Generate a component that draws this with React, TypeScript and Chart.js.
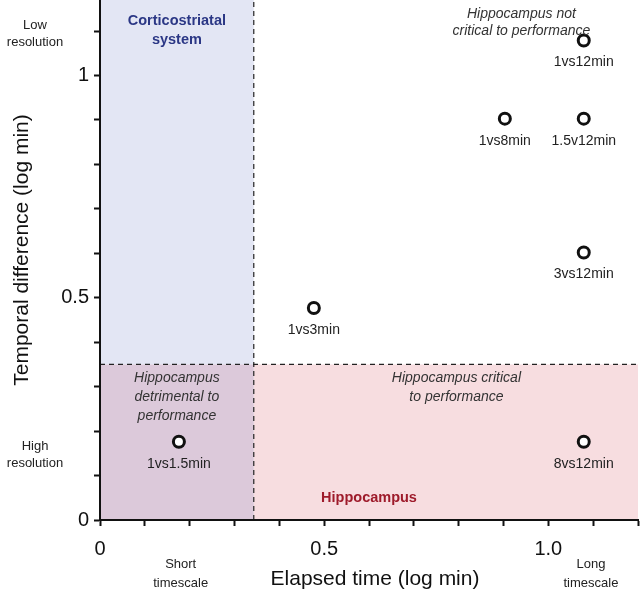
import React, { useEffect, useRef } from 'react';
import { Chart, registerables } from 'chart.js';

Chart.register(...registerables);

// ---- data ----
const pointNames = ['1vs1.5min', '1vs3min', '1vs8min', '1vs12min', '1.5v12min', '3vs12min', '8vs12min'];
const elapsedLog = [0.176, 0.477, 0.903, 1.079, 1.079, 1.079, 1.079];
const diffLog = [0.176, 0.477, 0.903, 1.079, 0.903, 0.602, 0.176];

const xTickText: Record<number, string> = { 0: '0', 5: '0.5', 10: '1.0' };
const yTickText: Record<number, string> = { 0: '0', 5: '0.5', 10: '1' };

const xMax = 1.2;
const yMax = 1.17;
const elapsedSplit = 0.343;
const diffSplit = 0.35;

const FONT = '"Liberation Sans", Arial, Helvetica, sans-serif';

function drawLines(ctx: CanvasRenderingContext2D, lines: string[], x: number, y: number, lh: number) {
  lines.forEach((t, i) => ctx.fillText(t, x, y + i * lh));
}

const regionsPlugin = {
  id: 'regions',
  beforeDraw(chart: any) {
    const { ctx, chartArea: a, scales } = chart;
    const x = scales.x, y = scales.y;
    const xs = x.getPixelForValue(elapsedSplit);
    const ys = y.getPixelForValue(diffSplit);
    ctx.save();
    ctx.fillStyle = '#e3e6f4';
    ctx.fillRect(a.left, a.top, xs - a.left, ys - a.top);
    ctx.fillStyle = '#f7dde0';
    ctx.fillRect(xs, ys, a.right - xs, a.bottom - ys);
    ctx.fillStyle = '#dcc9da';
    ctx.fillRect(a.left, ys, xs - a.left, a.bottom - ys);

    ctx.strokeStyle = '#222';
    ctx.lineWidth = 1.2;
    ctx.setLineDash([5, 4]);
    ctx.beginPath();
    ctx.moveTo(a.left, ys);
    ctx.lineTo(a.right, ys);
    ctx.moveTo(xs, a.bottom);
    ctx.lineTo(xs, a.top);
    ctx.stroke();
    ctx.restore();
  },
  afterDraw(chart: any) {
    const { ctx, chartArea: a, scales } = chart;
    const x = scales.x, y = scales.y;
    const xs = x.getPixelForValue(elapsedSplit);
    const ys = y.getPixelForValue(diffSplit);
    ctx.save();
    ctx.textAlign = 'center';
    ctx.textBaseline = 'middle';

    // region titles
    ctx.font = `bold 14.5px ${FONT}`;
    ctx.fillStyle = '#2b3785';
    drawLines(ctx, ['Corticostriatal', 'system'], (a.left + xs) / 2, a.top + 21, 19);

    ctx.fillStyle = '#9e1b2b';
    ctx.fillText('Hippocampus', x.getPixelForValue(0.6), a.bottom - 22);

    ctx.font = `italic 14px ${FONT}`;
    ctx.fillStyle = '#333';
    drawLines(ctx, ['Hippocampus not', 'critical to performance'], x.getPixelForValue(0.94), a.top + 14, 17);
    drawLines(ctx, ['Hippocampus', 'detrimental to', 'performance'], (a.left + xs) / 2, ys + 14, 19);
    drawLines(ctx, ['Hippocampus critical', 'to performance'], x.getPixelForValue(0.795), ys + 14, 19);

    // point labels
    ctx.font = `14px ${FONT}`;
    ctx.fillStyle = '#222';
    const meta = chart.getDatasetMeta(0);
    meta.data.forEach((el: any, i: number) => {
      ctx.fillText(pointNames[i], el.x, el.y + 22);
    });

    // side labels
    ctx.font = `13px ${FONT}`;
    ctx.fillStyle = '#222';
    drawLines(ctx, ['Low', 'resolution'], 35, y.getPixelForValue(1.12) + 3, 17);
    drawLines(ctx, ['High', 'resolution'], 35, y.getPixelForValue(0.165), 17);
    drawLines(ctx, ['Short', 'timescale'], x.getPixelForValue(0.18), a.bottom + 44, 19);
    drawLines(ctx, ['Long', 'timescale'], x.getPixelForValue(1.095), a.bottom + 44, 19);

    // axis titles
    ctx.font = `21px ${FONT}`;
    ctx.fillStyle = '#111';
    ctx.fillText('Elapsed time (log min)', (a.left + a.right) / 2 + 6, a.bottom + 59);
    ctx.translate(22, (a.top + a.bottom) / 2 - 10);
    ctx.rotate(-Math.PI / 2);
    ctx.fillText('Temporal difference (log min)', 0, 0);
    ctx.restore();
  },
};

export default function App() {
  const ref = useRef<HTMLCanvasElement>(null);
  useEffect(() => {
    document.body.style.margin = '0';
    const canvas = ref.current!;
    const chart = new Chart(canvas, {
      type: 'scatter',
      data: {
        datasets: [
          {
            data: elapsedLog.map((v, i) => ({ x: v, y: diffLog[i] })),
            pointRadius: 5.5,
            pointHoverRadius: 5.5,
            borderWidth: 3,
            borderColor: '#111',
            backgroundColor: '#fff',
          },
        ],
      },
      options: {
        responsive: false,
        animation: false,
        devicePixelRatio: 1,
        layout: { autoPadding: false, padding: { left: 0, right: 2, top: 0, bottom: 0 } },
        plugins: { legend: { display: false }, tooltip: { enabled: false } },
        scales: {
          x: {
            type: 'linear',
            min: 0,
            max: xMax,
            grid: { drawOnChartArea: false, drawTicks: true, tickLength: 6, tickWidth: 2, tickColor: '#111' },
            border: { color: '#111', width: 2 },
            ticks: {
              stepSize: 0.1,
              includeBounds: false,
              autoSkip: false,
              maxRotation: 0,
              padding: 11,
              color: '#111',
              font: { family: FONT, size: 20 },
              callback: (v: any) => xTickText[Math.round(Number(v) * 10)] ?? '',
            },
            afterFit: (s: any) => {
              s.height = 79;
              s.paddingLeft = 0;
              s.paddingRight = 0;
            },
          },
          y: {
            type: 'linear',
            min: 0,
            max: yMax,
            grid: { drawOnChartArea: false, drawTicks: true, tickLength: 6, tickWidth: 2, tickColor: '#111' },
            border: { color: '#111', width: 2 },
            ticks: {
              stepSize: 0.1,
              includeBounds: false,
              autoSkip: false,
              padding: 5,
              color: '#111',
              font: { family: FONT, size: 20 },
              callback: (v: any) => yTickText[Math.round(Number(v) * 10)] ?? '',
            },
            afterFit: (s: any) => {
              s.width = 100;
              s.paddingTop = 0;
              s.paddingBottom = 0;
            },
          },
        },
      },
      plugins: [regionsPlugin],
    });
    return () => chart.destroy();
  }, []);
  return (
    <div style={{ position: 'absolute', left: 0, top: 0, width: 640, height: 599 }}>
      <canvas ref={ref} width={640} height={599} style={{ width: 640, height: 599, display: 'block' }} />
    </div>
  );
}
